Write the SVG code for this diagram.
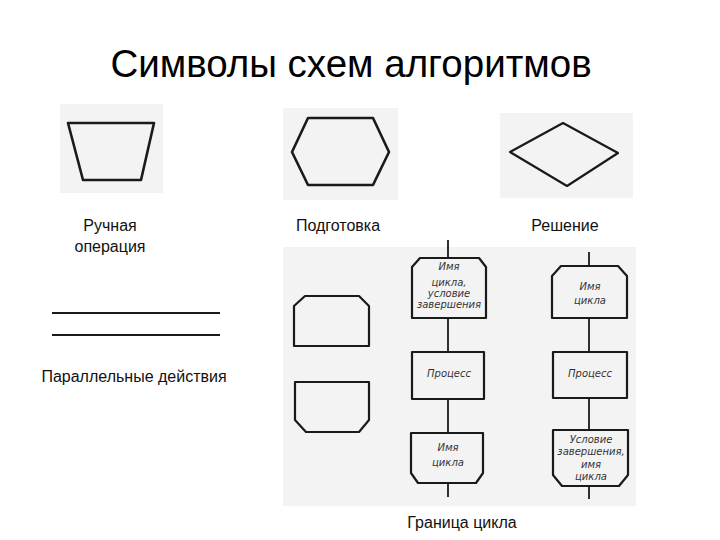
<svg xmlns="http://www.w3.org/2000/svg" width="720" height="540" viewBox="0 0 720 540">
<style>
.bg{fill:#f3f3f3;stroke:none}
.sh{fill:none;stroke:#1a1a1a;stroke-width:2.2;stroke-linejoin:round}
.ln{fill:none;stroke:#1a1a1a;stroke-width:1.8}
.title{font-family:"Liberation Sans",Arial,sans-serif;font-size:38.5px;fill:#000}
.lbl{font-family:"Liberation Sans",Arial,sans-serif;font-size:16px;fill:#111}
.hw{font-family:"DejaVu Sans",sans-serif;font-style:italic;font-size:10px;fill:#333;text-anchor:middle}
</style>
<rect width="720" height="540" fill="#fff"/>
<text class="title" x="351" y="77" text-anchor="middle">Символы схем алгоритмов</text>

<g id="manual-op">
<rect class="bg" x="60" y="104" width="103" height="89"/>
<polygon class="sh" points="68,123 154,123 141,180 83,180" style="stroke-width:2.6"/>
<text class="lbl" x="110" y="231" text-anchor="middle">Ручная</text>
<text class="lbl" x="110" y="252" text-anchor="middle">операция</text>
</g>

<g id="preparation">
<rect class="bg" x="283" y="108" width="115" height="92"/>
<polygon class="sh" points="308,118 373,118 389,152 373,185 308,185 292,152" style="stroke-width:2.6"/>
<text class="lbl" x="338" y="231" text-anchor="middle">Подготовка</text>
</g>

<g id="decision">
<rect class="bg" x="500" y="113" width="133" height="85"/>
<polygon class="sh" points="563,123 618,153 567,186 510,152"/>
<text class="lbl" x="565" y="231" text-anchor="middle">Решение</text>
</g>

<g id="parallel">
<line class="ln" x1="52" y1="313" x2="220" y2="313"/>
<line class="ln" x1="52" y1="335" x2="220" y2="335"/>
<text class="lbl" x="134" y="382" text-anchor="middle">Параллельные действия</text>
</g>

<rect class="bg" x="283" y="247" width="353" height="259"/>

<g id="connectors">
<line class="ln" x1="448" y1="240" x2="448" y2="258"/>
<line class="ln" x1="448" y1="318" x2="448" y2="352"/>
<line class="ln" x1="448" y1="399" x2="448" y2="433"/>
<line class="ln" x1="448" y1="483" x2="448" y2="497"/>
<line class="ln" x1="589" y1="252" x2="589" y2="266"/>
<line class="ln" x1="589" y1="318" x2="589" y2="352"/>
<line class="ln" x1="589" y1="398" x2="589" y2="430"/>
<line class="ln" x1="589" y1="486" x2="589" y2="499"/>
</g>

<g id="loop-start-left">
<polygon class="sh" points="305,296 359,296 369,306 369,346 294,346 294,306"/>
</g>
<g id="loop-end-left">
<polygon class="sh" points="295,382 369,382 369,420 359,432 306,432 295,420"/>
</g>

<g id="loop-start-mid">
<polygon class="sh" points="420,258 479,258 486,267 486,318 412,318 412,267"/>
<text class="hw" x="449" y="270">Имя</text>
<text class="hw" x="449" y="286">цикла,</text>
<text class="hw" x="449" y="297">условие</text>
<text class="hw" x="449" y="308">завершения</text>
</g>
<g id="process-mid">
<rect class="sh" x="412" y="352" width="72" height="47"/>
<text class="hw" x="449" y="377">Процесс</text>
</g>
<g id="loop-end-mid">
<polygon class="sh" points="411,433 483,433 483,473 476,483 418,483 411,473"/>
<text class="hw" x="448" y="451">Имя</text>
<text class="hw" x="448" y="466">цикла</text>
</g>

<g id="loop-start-right">
<polygon class="sh" points="561,266 618,266 627,276 627,318 552,318 552,276"/>
<text class="hw" x="590" y="290">Имя</text>
<text class="hw" x="590" y="304">цикла</text>
</g>
<g id="process-right">
<rect class="sh" x="553" y="352" width="74" height="46"/>
<text class="hw" x="590" y="377">Процесс</text>
</g>
<g id="loop-end-right">
<polygon class="sh" points="553,430 628,430 628,475 619,486 562,486 553,475"/>
<text class="hw" x="591" y="443">Условие</text>
<text class="hw" x="591" y="455">завершения,</text>
<text class="hw" x="591" y="468">имя</text>
<text class="hw" x="591" y="480">цикла</text>
</g>

<text class="lbl" x="462" y="528" text-anchor="middle">Граница цикла</text>
</svg>
